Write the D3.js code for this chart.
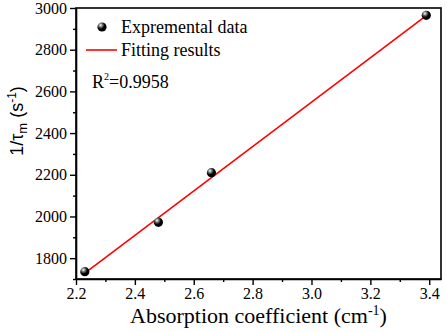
<!DOCTYPE html>
<html>
<head>
<meta charset="utf-8">
<script src="https://cdn.jsdelivr.net/npm/d3@7"></script>
<style>
  body { margin: 0; background: #fff; }
  svg { display: block; font-family: "Liberation Serif", "Times New Roman", serif; }
  .tick text { font-family: "Liberation Serif", serif; }
</style>
</head>
<body>
<svg id="chart" width="447" height="332"></svg>
<script>
// measured data (absorption coefficient vs 1/tau_m)
var absCoef = [2.23, 2.48, 2.66, 3.39];
var invTau = [1735, 1972, 2210, 2965];

// fitted straight line, two ends
var fitX = [2.23, 3.39];
var fitY = [1728, 2963];

var xTicks = [2.2, 2.4, 2.6, 2.8, 3.0, 3.2, 3.4];
var yTicks = [1800, 2000, 2200, 2400, 2600, 2800, 3000];

var margin = {left: 76, top: 8, right: 6, bottom: 53};
var W = 447, H = 332;

var svg = d3.select("#chart");

var x = d3.scaleLinear().domain([2.2, 3.44]).range([margin.left, W - margin.right]);
var y = d3.scaleLinear().domain([1700, 3000]).range([H - margin.bottom, margin.top]);

// sphere look for markers
var grad = svg.append("defs").append("radialGradient")
  .attr("id", "ball").attr("cx", "35%").attr("cy", "30%").attr("r", "70%");
grad.append("stop").attr("offset", "0%").attr("stop-color", "#fff");
grad.append("stop").attr("offset", "25%").attr("stop-color", "#888");
grad.append("stop").attr("offset", "60%").attr("stop-color", "#000");
grad.append("stop").attr("offset", "100%").attr("stop-color", "#000");

///////////////////////////////////////////////////////////////////////////////
// axes

var xMinor = d3.range(2.3, 3.44, 0.2);
var yMinor = d3.range(1700, 3000, 200);

var xAxis = svg.append("g")
  .attr("transform", "translate(0," + y.range()[0] + ")")
  .call(d3.axisBottom(x).tickValues(xTicks).tickFormat(d3.format(".1f"))
    .tickSize(6).tickPadding(3).tickSizeOuter(0));

svg.append("g")
  .attr("transform", "translate(0," + y.range()[0] + ")")
  .call(d3.axisBottom(x).tickValues(xMinor).tickFormat("").tickSize(3).tickSizeOuter(0))
  .select(".domain").remove();

var yAxis = svg.append("g")
  .attr("transform", "translate(" + x.range()[0] + ",0)")
  .call(d3.axisLeft(y).tickValues(yTicks).tickFormat(d3.format("d"))
    .tickSize(6).tickPadding(3).tickSizeOuter(0));

svg.append("g")
  .attr("transform", "translate(" + x.range()[0] + ",0)")
  .call(d3.axisLeft(y).tickValues(yMinor).tickFormat("").tickSize(3).tickSizeOuter(0))
  .select(".domain").remove();

xAxis.attr("font-family", "Liberation Serif").attr("font-size", 16);
yAxis.attr("font-family", "Liberation Serif").attr("font-size", 16);
svg.selectAll(".tick line").attr("stroke-width", 1.4);
svg.selectAll(".tick text").attr("fill", "#000");

// frame
svg.append("rect")
  .attr("x", x.range()[0]).attr("y", y.range()[1])
  .attr("width", x.range()[1] - x.range()[0])
  .attr("height", y.range()[0] - y.range()[1])
  .attr("fill", "none").attr("stroke", "#000").attr("stroke-width", 1.6);
svg.selectAll(".domain").attr("stroke-width", 1.6);

///////////////////////////////////////////////////////////////////////////////
// fit line and points

svg.append("path")
  .datum(d3.zip(fitX, fitY))
  .attr("d", d3.line().x(function (d) { return x(d[0]); }).y(function (d) { return y(d[1]); }))
  .attr("stroke", "#f00").attr("stroke-width", 1.6).attr("fill", "none");

svg.selectAll("circle.pt")
  .data(d3.zip(absCoef, invTau))
  .enter().append("circle")
  .attr("class", "pt")
  .attr("cx", function (d) { return x(d[0]); })
  .attr("cy", function (d) { return y(d[1]); })
  .attr("r", 4.6)
  .attr("fill", "url(#ball)");

///////////////////////////////////////////////////////////////////////////////
// legend

svg.append("circle").attr("cx", 102).attr("cy", 27).attr("r", 4.6).attr("fill", "url(#ball)");
svg.append("text").attr("x", 121).attr("y", 33).attr("font-size", 18).text("Expremental data");
svg.append("line").attr("x1", 86).attr("x2", 117).attr("y1", 50).attr("y2", 50)
  .attr("stroke", "#f00").attr("stroke-width", 1.6);
svg.append("text").attr("x", 121).attr("y", 56).attr("font-size", 18).text("Fitting results");

var r2 = svg.append("text").attr("x", 92).attr("y", 88).attr("font-size", 18);
r2.append("tspan").text("R");
r2.append("tspan").attr("font-size", 10).attr("dy", -8).text("2");
r2.append("tspan").attr("dy", 8).text("=0.9958");

///////////////////////////////////////////////////////////////////////////////
// axis titles

var xt = svg.append("text").attr("x", (x.range()[0] + x.range()[1]) / 2).attr("y", 323)
  .attr("text-anchor", "middle").attr("font-size", 22);
xt.append("tspan").text("Absorption coefficient (cm");
xt.append("tspan").attr("font-size", 14).attr("dy", -8).text("-1");
xt.append("tspan").attr("dy", 8).text(")");

var yt = svg.append("text")
  .attr("transform", "translate(23,121) rotate(-90)")
  .attr("text-anchor", "middle").attr("font-size", 18)
  .attr("font-family", "Liberation Sans");
yt.append("tspan").text("1/\u03c4");
yt.append("tspan").attr("font-size", 13).attr("dy", 4).text("m");
yt.append("tspan").attr("dy", -4).text(" (s");
yt.append("tspan").attr("font-size", 12).attr("dy", -7).text("-1");
yt.append("tspan").attr("dy", 7).text(")");
</script>
</body>
</html>
